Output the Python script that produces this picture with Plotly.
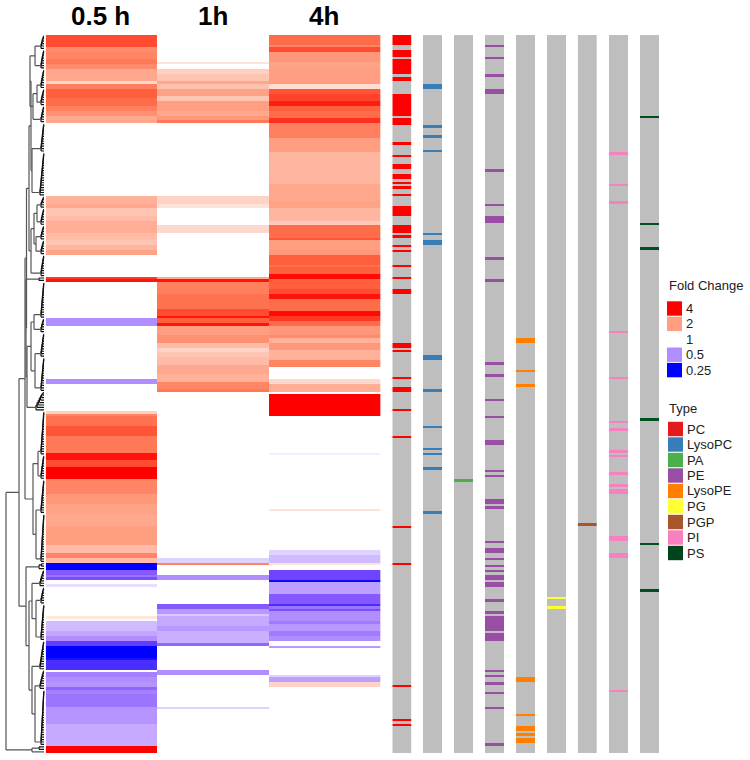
import numpy as np
import plotly.graph_objects as go

N_ROWS = 294
TIME_LABELS = ["0.5 h", "1h", "4h"]

# log2 fold change, run length encoded from the top row: (rows, value)
runs_05h = [(5,1.6),(2,1.15),(3,1.2),(2,1.3),(2,1.15),(5,.9),(1,.4),(2,1.25),(4,1.5),(3,1.4),(2,1.25),(2,1.1),(3,.9),
            (30,0),(3,.8),(2,.9),(3,.6),(2,.7),(5,.85),(3,.7),(2,.6),(2,.75),(2,.95),
            (9,0),(1,1.7),(1,1.9),(15,0),(3,-1),(22,0),(2,-1),(11,0),
            (1,.5),(1,1.2),(4,1.35),(4,1.55),(7,1.3),(3,1.9),(3,1.6),(5,2),(6,1.2),(4,1.05),(4,.95),(5,.9),(8,1.0),(3,.7),(2,1.2),(2,.7),
            (3,-2),(2,-1.4),(1,-1.2),(1,-1.5),(2,0),(1,-.3),(12,0),(1,.25),(1,0),
            (4,-.6),(2,-.8),(2,-1),(2,-1.6),(5,-2),(1,-1.9),(4,-1.7),(1,0),
            (2,-1.1),(2,-1.0),(2,-.95),(1,-1.3),(2,-1.1),(5,-1.2),(7,-.95),(9,-.75),(3,2)]
runs_1h = [(11,0),(1,.3),(2,0),(2,.5),(3,.6),(1,.9),(2,.65),(3,.95),(2,.6),(4,1.0),(2,.9),(2,1.05),(1,1.3),
           (30,0),(3,.45),(2,.3),(7,0),(3,.4),(18,0),
           (1,.9),(1,1.9),(5,1.25),(6,1.35),(3,1.6),(1,1.9),(2,1.5),(1,1.9),(4,1.0),(3,1.1),(2,.7),(2,.45),(2,.6),(3,.7),(4,.9),(3,.8),(3,1.2),(1,1.3),
           (68,0),(2,-.4),(1,1.2),(4,0),(2,-1),(10,0),
           (2,-1.4),(2,-.9),(1,-.5),(4,-.75),(2,-.9),(5,-.7),(1,-1.3),(10,0),(2,-1),(13,0),(1,-.4),(18,0)]
runs_4h = [(4,1.4),(1,1.2),(2,1.6),(4,1.05),(3,.95),(6,1.0),(2,.35),(2,1.55),(3,1.65),(2,1.85),(2,1.5),(3,1.4),(2,1.75),
           (6,1.25),(6,1.0),(13,.75),(7,.9),(3,.95),(5,.75),(2,.55),(5,1.4),(1,1.55),(4,1.0),(2,1.05),
           (4,1.5),(1,1.35),(3,1.5),(2,1.95),(4,1.5),(2,1.6),(2,1.9),(5,1.4),(2,1.95),(2,1.7),(2,1.4),(4,1.05),(1,1.15),(2,.8),(3,1.05),(4,.8),(3,1.2),
           (5,0),(2,.4),(3,.85),(1,0),(9,2),(15,0),(1,-.15),(22,0),(1,.3),(16,0),
           (2,-.4),(3,-.6),(1,.3),(2,0),(4,-1.55),(1,-1.95),(5,-.85),(4,-1.4),(1,-1.7),(1,-1.2),(1,-1.5),(4,-1),(1,-1.15),(3,-.9),(2,-1.15),(2,-1),
           (2,0),(1,-.9),(11,0),(1,-.4),(2,-.85),(2,.45),(27,0)]

# rows flagged in each lipid-class annotation track
rows_PC = [0,1,2,3,6,7,8,10,11,12,13,14,15,17,18,24,25,26,27,28,29,30,31,32,34,35,36,44,49,53,54,57,58,60,62,65,
           70,71,72,73,78,79,80,82,86,88,94,99,104,105,126,127,129,140,144,145,153,164,201,216,266,280,282]
rows_LysoPC = [20,21,37,41,47,81,84,85,131,132,145,160,169,171,177,195]
rows_PA = [182]
rows_PE = [4,9,16,22,23,55,69,74,75,76,91,100,134,139,149,156,166,167,178,180,190,191,193,207,210,211,214,217,219,
           221,222,224,225,231,236,238,239,240,241,242,243,245,246,247,260,262,265,269,275,290]
rows_LysoPE = [124,125,137,143,263,264,278,283,284,286,288,289]
rows_PG = [230,234]
rows_PGP = [200]
rows_PI = [48,61,68,121,140,158,161,170,172,179,184,186,187,205,206,212,213,268]
rows_PS = [33,77,87,157,208,227]

TYPE_NAMES = ["PC", "LysoPC", "PA", "PE", "LysoPE", "PG", "PGP", "PI", "PS"]
TYPE_COLORS = ["#E41A1C", "#377EB8", "#4DAF4A", "#984EA3", "#FF7F00", "#FFFF33", "#A65628", "#F781BF", "#00441B"]
TRACK_COLORS = ["#FF0000", "#377EB8", "#4DAF4A", "#984EA3", "#FF7F00", "#FFFF33", "#A65628", "#F781BF", "#00501F"]
FOLD_LABELS = ["4", "2", "1", "0.5", "0.25"]
FOLD_COLORS = ["#FF0000", "#FF9E81", "#FFFFFF", "#B18EFF", "#0000FF"]

W, H = 750, 760
TOP, BOTTOM = 35, 753
GREY = "#BEBEBE"
COLORSCALE = [[0, "#0000FF"], [.125, "#7A4CFF"], [.25, "#B18EFF"], [.5, "#FFFFFF"],
              [.75, "#FF9E81"], [.875, "#FF5F3C"], [1, "#FF0000"]]


def expand(runs):
    return [v for n, v in runs for _ in range(n)]


def marks(rows):
    z = [[0] for _ in range(N_ROWS)]
    for r in rows:
        z[r] = [1]
    return z


# ---- dendrogram ----
def c(a, b, h):
    return ("comb", a, b, h)


def n(h, l, r):
    return ("node", h, l, r)


A = n(14, n(9, c(0, 6, 3), c(6, 14, 3)), n(11, n(7, c(14, 22, 3), c(22, 29, 3)), c(29, 36, 3)))
B = n(12, c(36, 48, 3), c(48, 66, 4))
C = n(13, n(10, n(7, c(66, 71, 3), c(71, 78, 3)), n(8, c(78, 84, 3), c(84, 90, 3))), c(90, 99, 3))
D = n(18, c(99, 101, 5), n(17, n(13, n(10, c(101, 116, 3), c(116, 122, 3)), n(9, c(122, 132, 3), c(132, 146, 3))), c(146, 154, 8)))
E = n(11, n(6, c(154, 172, 3), c(172, 182, 3)), n(8, c(182, 196, 3), c(196, 216, 3)))
F = n(18, c(216, 219, 5), n(15, n(12, c(219, 226, 4), n(8, c(226, 233, 3), c(233, 248, 3))),
                            n(12, c(248, 260, 4), n(9, c(260, 268, 4), c(268, 291, 3)))))
G = n(12, c(291, 293, 5), 293)
TREE = n(38, n(25, n(19, n(17.5, n(15, n(13, A, B), C), D), E), F), G)

fine_x, fine_y, main_x, main_y = [], [], [], []


def seg(xs, ys, x0, y0, x1, y1):
    xs.extend([x0, x1, None])
    ys.extend([y0, y1, None])


def draw(node):
    if isinstance(node, int):
        return node, 0
    if node[0] == "comb":
        _, a, b, h = node
        y, cur = a, 0
        steps = b - a - 1
        for i, r in enumerate(range(a + 1, b)):
            nh = h * (i + 1) / steps
            seg(fine_x, fine_y, cur, y, nh, y)
            seg(fine_x, fine_y, 0, r, nh, r)
            seg(fine_x, fine_y, nh, y, nh, r)
            y, cur = (y + r) / 2, nh
        return y, cur
    _, h, l, r = node
    yl, hl = draw(l)
    yr, hr = draw(r)
    seg(main_x, main_y, hl, yl, h, yl)
    seg(main_x, main_y, hr, yr, h, yr)
    seg(main_x, main_y, h, yl, h, yr)
    return (yl + yr) / 2, h


draw(TREE)

# ---- figure ----
fig = go.Figure()
fig.add_trace(go.Scatter(x=fine_x, y=fine_y, mode="lines", line=dict(color="#111111", width=1.2),
                         hoverinfo="skip", showlegend=False, xaxis="x", yaxis="y"))
fig.add_trace(go.Scatter(x=main_x, y=main_y, mode="lines", line=dict(color="#555555", width=1.2),
                         hoverinfo="skip", showlegend=False, xaxis="x", yaxis="y"))

z = np.array([expand(runs_05h), expand(runs_1h), expand(runs_4h)]).T
fig.add_trace(go.Heatmap(z=z, x=TIME_LABELS, y=list(range(N_ROWS)), colorscale=COLORSCALE, zmin=-2, zmax=2,
                         showscale=False, xaxis="x2", yaxis="y"))

track_rows = [rows_PC, rows_LysoPC, rows_PA, rows_PE, rows_LysoPE, rows_PG, rows_PGP, rows_PI, rows_PS]
for i, (rows, col) in enumerate(zip(track_rows, TRACK_COLORS)):
    fig.add_trace(go.Heatmap(z=marks(rows), y=list(range(N_ROWS)), zmin=0, zmax=1,
                             colorscale=[[0, GREY], [1, col]], showscale=False,
                             xaxis=f"x{i + 3}", yaxis="y"))

hidden = dict(visible=False, showgrid=False, zeroline=False, fixedrange=True)
layout = dict(
    width=W, height=H, autosize=False, margin=dict(l=0, r=0, t=0, b=0),
    paper_bgcolor="white", plot_bgcolor="white", showlegend=False,
    font=dict(family="Liberation Sans, Arial, sans-serif", size=13, color="#222222"),
    yaxis=dict(domain=[1 - BOTTOM / H, 1 - TOP / H], range=[N_ROWS - .5, -.5], **hidden),
    xaxis=dict(domain=[0, 45.5 / W], range=[44, -1.5], anchor="y", **hidden),
    xaxis2=dict(domain=[45.7 / W, 380.5 / W], anchor="y", type="category", **hidden),
)
track_left = [392.3, 423, 454, 485, 516, 547, 577.7, 609, 640]
for i, x0 in enumerate(track_left):
    layout[f"xaxis{i + 3}"] = dict(domain=[x0 / W, (x0 + 19.4) / W], anchor="y", range=[-.5, .5], **hidden)

annotations, shapes = [], []


def text(px, py, s, size=13, bold=False, anchor="left", color="#222222"):
    annotations.append(dict(x=px / W, y=1 - py / H, xref="paper", yref="paper", text=f"<b>{s}</b>" if bold else s,
                            showarrow=False, xanchor=anchor, yanchor="middle", xshift=0,
                            font=dict(size=size, color=color), borderpad=0, borderwidth=0))


def swatch(x0, y0, x1, y1, col):
    shapes.append(dict(type="rect", xref="paper", yref="paper", x0=x0 / W, x1=x1 / W,
                       y0=1 - y0 / H, y1=1 - y1 / H, fillcolor=col, line=dict(width=0), layer="above"))


for lab, px in zip(TIME_LABELS, [101, 213, 324]):
    text(px, 16, lab, size=26, bold=True, anchor="center", color="#000000")

text(669, 286, "Fold Change")
for i, (lab, col) in enumerate(zip(FOLD_LABELS, FOLD_COLORS)):
    yc = 308.5 + 15.4 * i
    swatch(667, yc - 7.2, 682, yc + 7.2, col)
    text(686, yc, lab)

text(668.5, 408, "Type")
for i, (lab, col) in enumerate(zip(TYPE_NAMES, TYPE_COLORS)):
    yc = 429 + 15.5 * i
    swatch(668, yc - 7.2, 683, yc + 7.2, col)
    text(686.5, yc, lab)

layout["annotations"] = annotations
layout["shapes"] = shapes
fig.update_layout(**layout)

fig.write_html("out.html", config=dict(displayModeBar=False),
               post_script="document.body.style.margin='0';document.documentElement.style.overflow='hidden';")
